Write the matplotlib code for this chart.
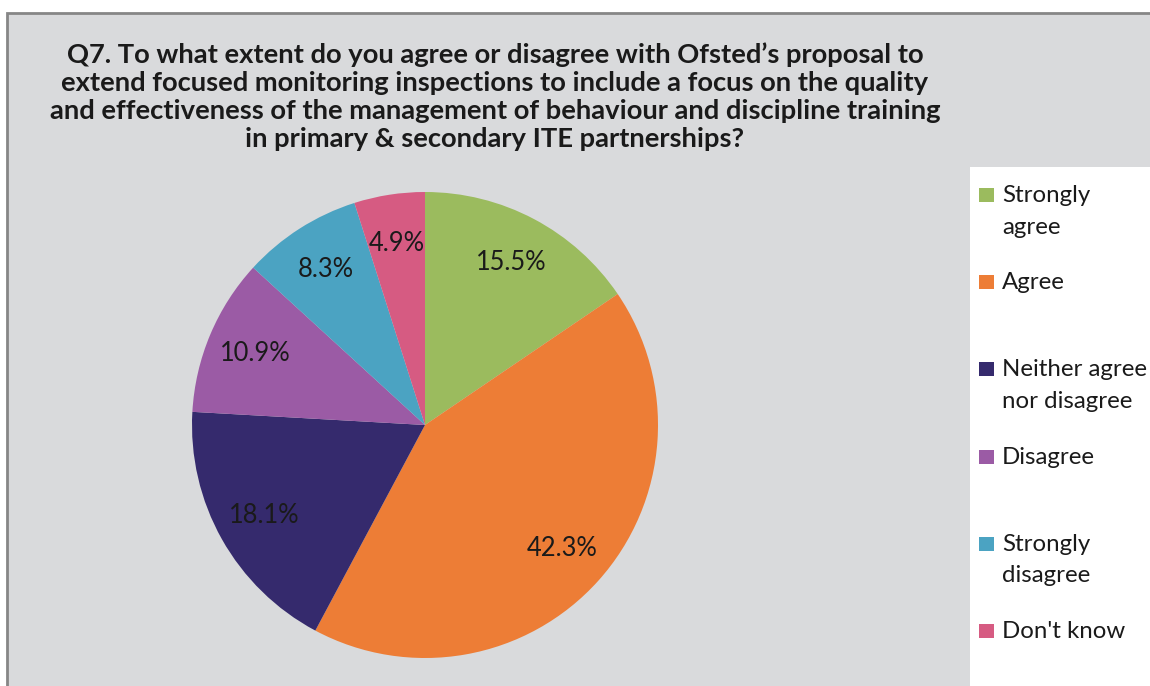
import matplotlib
matplotlib.use("Agg")
import matplotlib.pyplot as plt
from matplotlib.patches import Rectangle

# Survey responses (percent of respondents)
categories = ["Strongly agree", "Agree", "Neither agree nor disagree",
              "Disagree", "Strongly disagree", "Don't know"]
legend_labels = ["Strongly\nagree", "Agree", "Neither agree\nnor disagree",
                 "Disagree", "Strongly\ndisagree", "Don't know"]
shares = [15.5, 42.3, 18.1, 10.9, 8.3, 4.9]
colors = ["#9BBB5E", "#ED7D36", "#352A6D", "#9B5BA5", "#4BA3C2", "#D65B82"]

title = ("Q7. To what extent do you agree or disagree with Ofsted\u2019s proposal to\n"
         "extend focused monitoring inspections to include a focus on the quality\n"
         "and effectiveness of the management of behaviour and discipline training\n"
         "in primary & secondary ITE partnerships?")

W, H = 1150, 686
FONT = "Lato"
TXT = "#1a1a1a"

fig = plt.figure(figsize=(W / 100, H / 100), dpi=100)
fig.patch.set_facecolor("white")


def fx(px):
    return px / W


def fy(py):
    return 1 - py / H


# chart area with grey fill and border
fig.add_artist(Rectangle((fx(7), fy(H + 20)), fx(W + 20 - 7), (H + 20 - 13) / H,
                         transform=fig.transFigure, facecolor="#D9DADC",
                         edgecolor="#868686", linewidth=2, zorder=-10))
# white legend panel
fig.add_artist(Rectangle((fx(970), fy(H + 20)), fx(W + 20 - 970), (H + 20 - 167) / H,
                         transform=fig.transFigure, facecolor="white",
                         edgecolor="none", zorder=-9))

# pie
cx, cy, r = 425, 425, 233
ax = fig.add_axes([fx(cx - r), fy(cy + r), 2 * r / W, 2 * r / H])
ax.set_zorder(5)
ax.pie(shares, colors=colors, startangle=90, counterclock=False,
       autopct="%.1f%%", pctdistance=0.79, radius=1.0,
       wedgeprops=dict(linewidth=0),
       textprops=dict(fontsize=18.4, color=TXT, family=FONT))
ax.set_xlim(-1, 1)
ax.set_ylim(-1, 1)
ax.set_aspect("equal")
ax.axis("off")

# title
fig.text(fx(495), fy(42), title, ha="center", va="top", fontsize=19.7,
         fontweight="bold", family=FONT, color=TXT, linespacing=1.2)

# legend
for i, (lab, col) in enumerate(zip(legend_labels, colors)):
    top = 188 + i * 87.2
    fig.add_artist(Rectangle((fx(979), fy(top + 14)), fx(15), 14 / H,
                             transform=fig.transFigure, facecolor=col,
                             edgecolor="none"))
    fig.text(fx(1002), fy(top - 3), lab, ha="left", va="top", fontsize=17.3,
             family=FONT, color=TXT, linespacing=1.62)

fig.savefig("out.png", dpi=100)
